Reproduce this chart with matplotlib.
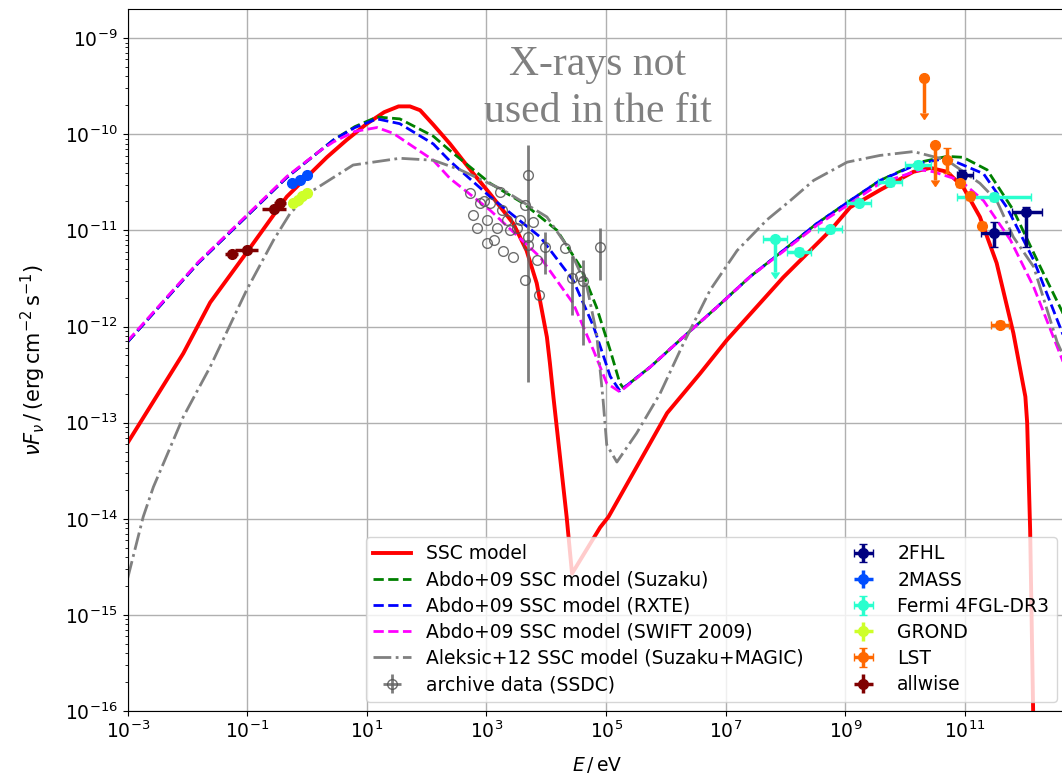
import numpy as np
import matplotlib
matplotlib.use("Agg")
import matplotlib.pyplot as plt
from matplotlib.ticker import FixedLocator, LogLocator, NullLocator

# model curves (log10 E/eV, log10 nuFnu)
ssc_logE = [-3.0, -2.63, -2.07, -1.62, -1.01, -0.34, 0.33, 0.66, 1.0, 1.29, 1.53, 1.72, 1.89, 2.11,
            2.39, 2.73, 3.06, 3.45, 3.67, 3.84, 4.01, 4.06, 4.12, 4.34, 4.43, 4.90, 5.04, 6.02, 6.57,
            7.02, 7.96, 8.75, 9.08, 9.58, 10.14, 10.42, 10.70, 10.97, 11.25, 11.53, 11.81, 12.01,
            12.04, 12.09, 12.14, 12.16]
ssc_logF = [-13.21, -12.84, -12.28, -11.75, -11.23, -10.65, -10.24, -10.06, -9.89, -9.77, -9.71,
            -9.71, -9.75, -9.90, -10.10, -10.37, -10.62, -10.93, -11.21, -11.55, -12.11, -12.38,
            -12.74, -13.98, -14.57, -14.09, -13.98, -12.90, -12.49, -12.14, -11.49, -11.0, -10.76,
            -10.58, -10.39, -10.35, -10.39, -10.55, -10.86, -11.34, -12.07, -12.73, -13.0, -14.12,
            -16.0, -17.0]

suz_logE = [-3.0, -1.82, -0.34, 0.22, 0.44, 0.8, 1.17, 1.55, 2.11, 2.39, 3.06, 3.62, 4.18, 4.57,
            4.84, 5.07, 5.23, 5.29, 5.74, 6.29, 6.85, 7.41, 7.96, 8.52, 9.08, 9.58, 10.25, 10.70,
            10.97, 11.37, 11.81, 12.26, 12.63, 12.75]
suz_logF = [-12.16, -11.34, -10.45, -10.17, -10.06, -9.92, -9.82, -9.84, -10.02, -10.17, -10.51,
            -10.72, -11.0, -11.38, -11.80, -12.25, -12.59, -12.64, -12.42, -12.11, -11.80, -11.48,
            -11.21, -10.93, -10.69, -10.48, -10.29, -10.23, -10.24, -10.37, -10.79, -11.38, -11.85,
            -12.05]

rxte_logE = [-3.0, -1.82, -0.34, 0.22, 0.44, 0.8, 1.17, 1.55, 2.11, 2.39, 3.06, 3.90, 4.45, 4.79,
             5.07, 5.23, 5.74, 6.29, 6.85, 7.41, 7.96, 8.52, 9.08, 9.58, 10.25, 10.70, 10.97, 11.31,
             11.70, 12.15, 12.63, 12.75]
rxte_logF = [-12.16, -11.34, -10.45, -10.17, -10.06, -9.93, -9.84, -9.89, -10.10, -10.28, -10.65,
             -11.07, -11.52, -12.0, -12.52, -12.67, -12.42, -12.11, -11.80, -11.48, -11.21, -10.93,
             -10.69, -10.48, -10.30, -10.25, -10.32, -10.41, -10.76, -11.31, -12.07, -12.25]

swift_logE = [-3.0, -1.82, -0.34, 0.22, 0.44, 0.8, 1.17, 1.44, 2.11, 2.39, 3.06, 3.90, 4.45, 4.79,
              5.01, 5.23, 5.74, 6.29, 6.85, 7.41, 7.96, 8.52, 9.08, 9.58, 10.25, 10.47, 10.92, 11.31,
              11.76, 12.15, 12.63, 12.75]
swift_logF = [-12.15, -11.33, -10.44, -10.17, -10.08, -9.97, -9.93, -9.99, -10.27, -10.46, -10.79,
              -11.28, -11.76, -12.25, -12.59, -12.68, -12.42, -12.11, -11.80, -11.48, -11.22, -10.95,
              -10.72, -10.51, -10.37, -10.39, -10.48, -10.69, -11.10, -11.59, -12.35, -12.55]

alek_logE = [-3.0, -2.74, -2.57, -2.07, -1.62, -1.01, -0.56, -0.28, 0.11, 0.77, 1.55, 2.11, 2.56,
             3.28, 4.01, 4.40, 4.68, 4.84, 4.95, 5.01, 5.18, 5.51, 5.90, 6.29, 6.74, 7.19, 7.69,
             8.08, 8.47, 9.03, 9.58, 10.14, 10.70, 11.25, 11.53, 11.81, 12.15, 12.54, 12.75]
alek_logF = [-14.62, -13.98, -13.67, -12.94, -12.42, -11.62, -11.10, -10.82, -10.58, -10.32, -10.25,
             -10.27, -10.37, -10.58, -10.86, -11.21, -11.59, -12.07, -12.77, -13.23, -13.41, -13.11,
             -12.70, -12.18, -11.62, -11.21, -10.89, -10.69, -10.48, -10.29, -10.22, -10.18, -10.27,
             -10.51, -10.69, -11.07, -11.38, -12.16, -12.45]

# archive data (SSDC): log E, log F, lower / upper error in dex
arch_logE = [2.73, 2.78, 2.84, 2.89, 2.95, 3.01, 3.01, 3.06, 3.12, 3.17, 3.23, 3.26, 3.27, 3.34,
             3.39, 3.45, 3.51, 3.56, 3.65, 3.65, 3.69, 3.70, 3.70, 3.77, 3.84, 3.87, 3.97, 4.31,
             4.43, 4.57, 4.62, 4.90]
arch_logF = [-10.61, -10.84, -10.97, -10.72, -10.69, -10.89, -11.13, -10.72, -11.10, -10.97, -10.60,
             -10.79, -11.21, -10.89, -11.0, -11.28, -10.98, -10.89, -10.74, -11.52, -10.42, -11.07,
             -11.15, -10.91, -11.31, -11.67, -11.17, -11.18, -11.50, -11.47, -11.53, -11.17]
arch_dlo = [0.0] * 20 + [2.16] + [0.0] * 5 + [0.28, 0.0, 0.38, 0.0, 0.66, 0.35]
arch_dhi = [0.0] * 20 + [0.31] + [0.0] * 5 + [0.15, 0.0, 0.23, 0.0, 0.22, 0.19]

# 2FHL
fhl_logE = [10.95, 11.49, 12.02]
fhl_logF = [-10.42, -11.03, -10.81]
fhl_xlo = [0.09, 0.23, 0.24]
fhl_xhi = [0.19, 0.27, 0.27]
fhl_ylo = [0.05, 0.14, 0.36]
fhl_yhi = [0.05, 0.12, 0.05]

# 2MASS
mass_logE = [-0.26, -0.12, 0.0]
mass_logF = [-10.51, -10.48, -10.42]

# Fermi 4FGL-DR3
fermi_logE = [7.83, 8.22, 8.75, 9.23, 9.75, 10.22, 11.48]
fermi_logF = [-11.09, -11.22, -10.99, -10.71, -10.50, -10.32, -10.65]
fermi_xlo = [0.2, 0.2, 0.2, 0.2, 0.2, 0.22, 0.61]
fermi_xhi = [0.2, 0.2, 0.2, 0.2, 0.2, 0.22, 0.62]
fermi_ylo = [0.34, 0.04, 0.04, 0.04, 0.04, 0.04, 0.04]
fermi_yhi = [0.03, 0.04, 0.04, 0.04, 0.04, 0.04, 0.04]
fermi_ul = [True, False, False, False, False, False, False]

# GROND
grond_logE = [-0.24, -0.16, -0.09, 0.0]
grond_logF = [-10.72, -10.68, -10.64, -10.61]

# LST
lst_logE = [10.31, 10.50, 10.70, 10.91, 11.09, 11.28, 11.59]
lst_logF = [-9.41, -10.11, -10.27, -10.51, -10.64, -10.95, -11.98]
lst_xerr = [0.0, 0.0, 0.0, 0.0, 0.0, 0.0, 0.15]
lst_ylo = [0.37, 0.37, 0.13, 0.04, 0.04, 0.04, 0.04]
lst_yhi = [0.0, 0.0, 0.13, 0.04, 0.04, 0.04, 0.04]
lst_ul = [True, True, False, False, False, False, False]

# allwise
wise_logE = [-1.26, -1.01, -0.56, -0.45]
wise_logF = [-11.25, -11.20, -10.78, -10.71]
wise_xerr = [0.11, 0.19, 0.2, 0.1]


def pw(a):
    return 10.0 ** np.asarray(a, dtype=float)


def log_err(logv, lo, hi):
    v = pw(logv)
    return np.vstack([v - pw(np.asarray(logv) - np.asarray(lo)),
                      pw(np.asarray(logv) + np.asarray(hi)) - v])


plt.rcParams['font.size'] = 13.5
fig = plt.figure(figsize=(10.62, 7.82), dpi=100)
ax = fig.add_axes([0.1202, 0.0908, 0.8836, 0.8973])

l_ssc, = ax.plot(pw(ssc_logE), pw(ssc_logF), color='red', lw=2.8, label='SSC model')
l_suz, = ax.plot(pw(suz_logE), pw(suz_logF), color='green', ls='--', lw=2, label='Abdo+09 SSC model (Suzaku)')
l_rxte, = ax.plot(pw(rxte_logE), pw(rxte_logF), color='blue', ls='--', lw=2, label='Abdo+09 SSC model (RXTE)')
l_swift, = ax.plot(pw(swift_logE), pw(swift_logF), color='magenta', ls='--', lw=2,
                   label='Abdo+09 SSC model (SWIFT 2009)')
l_alek, = ax.plot(pw(alek_logE), pw(alek_logF), color='gray', ls='-.', lw=2,
                  label='Aleksic+12 SSC model (Suzaku+MAGIC)')

arch = ax.errorbar(pw(arch_logE), pw(arch_logF), yerr=log_err(arch_logF, arch_dlo, arch_dhi),
                   xerr=np.zeros(len(arch_logE)), fmt='o', mfc='none', mec='#555555', ms=7,
                   ecolor='#666666', elinewidth=2, alpha=0.85, label='archive data (SSDC)')

cols = plt.cm.jet(np.linspace(0, 1, 6))

e_fhl = ax.errorbar(pw(fhl_logE), pw(fhl_logF), xerr=log_err(fhl_logE, fhl_xlo, fhl_xhi),
                    yerr=log_err(fhl_logF, fhl_ylo, fhl_yhi), fmt='o', color=cols[0], ms=7,
                    elinewidth=2.5, capsize=3, label='2FHL')
e_mass = ax.errorbar(pw(mass_logE), pw(mass_logF), xerr=np.zeros(3), yerr=np.zeros(3), fmt='o',
                     color=cols[1], ms=7, elinewidth=2.5, label='2MASS')
e_fermi = ax.errorbar(pw(fermi_logE), pw(fermi_logF), xerr=log_err(fermi_logE, fermi_xlo, fermi_xhi),
                      yerr=log_err(fermi_logF, fermi_ylo, fermi_yhi), uplims=fermi_ul, fmt='o',
                      color=cols[2], ms=7, elinewidth=2.5, capsize=3, label='Fermi 4FGL-DR3')
e_grond = ax.errorbar(pw(grond_logE), pw(grond_logF), xerr=np.zeros(4), yerr=np.zeros(4), fmt='o',
                      color=cols[3], ms=7, elinewidth=2.5, label='GROND')
e_lst = ax.errorbar(pw(lst_logE), pw(lst_logF), xerr=log_err(lst_logE, lst_xerr, lst_xerr),
                    yerr=log_err(lst_logF, lst_ylo, lst_yhi), uplims=lst_ul, fmt='o',
                    color=cols[4], ms=7, elinewidth=2.5, capsize=3, label='LST')
e_wise = ax.errorbar(pw(wise_logE), pw(wise_logF), xerr=log_err(wise_logE, wise_xerr, wise_xerr),
                     yerr=np.zeros(4), fmt='o', color=cols[5], ms=7, elinewidth=2.5, label='allwise')

ax.set_xscale('log')
ax.set_yscale('log')
ax.set_xlim(1e-3, 10 ** 12.69)
ax.set_ylim(1e-16, 10 ** -8.7)
ax.xaxis.set_major_locator(FixedLocator(10.0 ** np.arange(-3, 13, 2)))
ax.xaxis.set_minor_locator(NullLocator())
ax.yaxis.set_major_locator(FixedLocator(10.0 ** np.arange(-16, -8)))
ax.yaxis.set_minor_locator(LogLocator(base=10, subs=np.arange(2, 10), numticks=20))
ax.grid(True, which='major', color='#b0b0b0', lw=1)
ax.set_axisbelow(True)

ax.set_xlabel(r'$E\,/\,\mathrm{eV}$', labelpad=9)
ax.set_ylabel(r'$\nu F_{\nu}\,/\,(\mathrm{erg\,cm^{-2}\,s^{-1}})$', fontsize=15, labelpad=12)

handles = [l_ssc, l_suz, l_rxte, l_swift, l_alek, arch, e_fhl, e_mass, e_fermi, e_grond, e_lst, e_wise]
ax.legend(handles=handles, labels=[h.get_label() for h in handles], ncol=2, loc='lower right',
          labelspacing=0.38, columnspacing=2.2)

fig.text(0.563, 0.887, 'X-rays not\nused in the fit', ha='center', va='center',
         family='Liberation Serif', fontsize=30, color='gray', linespacing=1.3)

fig.savefig('out.png', dpi=100)
